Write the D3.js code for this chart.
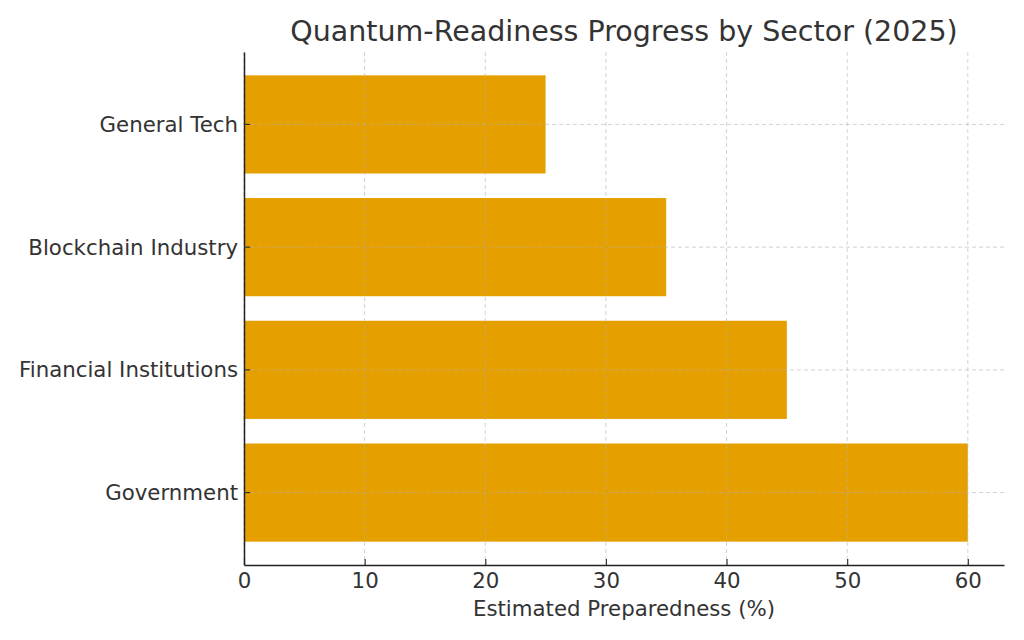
<!DOCTYPE html>
<html><head><meta charset="utf-8">
<script src="https://cdn.jsdelivr.net/npm/d3@7"></script>
<style>body{margin:0;background:#fff}svg{display:block}text{font-family:"DejaVu Sans",sans-serif;fill:#333}</style>
</head><body><svg id="c" width="1024" height="640"></svg>
<script>
const categories = ["General Tech","Blockchain Industry","Financial Institutions","Government"];
const values = [25,35,45,60];
const xTicks = [0,10,20,30,40,50,60];
const title = "Quantum-Readiness Progress by Sector (2025)";
const xLabel = "Estimated Preparedness (%)";

const svg = d3.select("#c");
const L=244, R=1004, T=52, B=565;
const x = d3.scaleLinear().domain([0,63]).range([L,R]);
const y = d3.scaleBand().domain(categories).range([T,B]).paddingInner(0.2).paddingOuter(0.19);

svg.selectAll("rect.bar").data(categories).join("rect").attr("class","bar")
  .attr("x",x(0)).attr("y",d=>y(d)).attr("height",y.bandwidth())
  .attr("width",(d,i)=>x(values[i])-x(0)).attr("fill","#E5A000");

// grid
const g = svg.append("g").attr("stroke","#b0b0b0").attr("stroke-opacity",0.7).attr("stroke-dasharray","4,3").attr("stroke-width",0.8);
g.selectAll("line.v").data(xTicks).join("line").attr("x1",d=>x(d)).attr("x2",d=>x(d)).attr("y1",T).attr("y2",B);
g.selectAll("line.h").data(categories).join("line").attr("x1",L).attr("x2",R).attr("y1",d=>y(d)+y.bandwidth()/2).attr("y2",d=>y(d)+y.bandwidth()/2);

// axes
const xa = svg.append("g").attr("transform",`translate(0,${B})`).call(d3.axisBottom(x).tickValues(xTicks).tickSizeInner(-6).tickSizeOuter(0).tickPadding(3));
const ya = svg.append("g").attr("transform",`translate(${L},0)`).call(d3.axisLeft(y).tickSizeInner(-6).tickSizeOuter(0).tickPadding(6));
[xa,ya].forEach(a=>{a.select(".domain").attr("stroke","#222").attr("stroke-width",1.5);
  a.selectAll(".tick line").attr("stroke","#333").attr("stroke-width",1.2);
  a.selectAll(".tick text").attr("font-size",21.3).style("font-family","DejaVu Sans").attr("fill","#222");});
ya.selectAll(".tick text").attr("x",-6).attr("dy","0.35em");
xa.selectAll(".tick text").attr("y",3).attr("dy","0.95em");

svg.append("text").attr("x",624).attr("y",41).attr("text-anchor","middle").attr("font-size",28.5).text(title);
svg.append("text").attr("x",624).attr("y",616).attr("text-anchor","middle").attr("font-size",21.3).text(xLabel);
</script></body></html>
